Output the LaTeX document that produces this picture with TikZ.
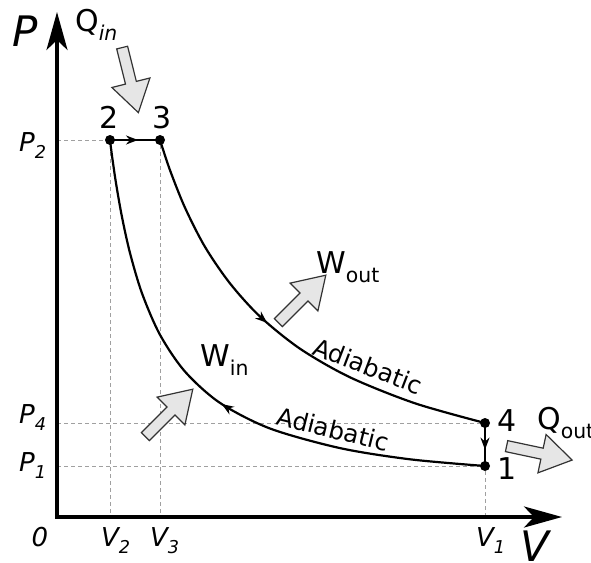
\documentclass[tikz,border=0pt]{standalone}
\usepackage{fontspec}
\setmainfont{DejaVu Sans}
\usetikzlibrary{arrows.meta,shapes.arrows,decorations.markings}
\definecolor{guidegray}{RGB}{160,160,160}
\definecolor{heatfill}{RGB}{230,230,230}
\newcommand{\lowered}[1]{\raisebox{-0.3em}{\scalebox{0.68}{#1}}}

\begin{document}
\begin{tikzpicture}[x=1pt, y=-1pt,
    axisline/.style={line width=3.5pt,
        {Stealth[length=38pt,width=21pt,inset=10pt]}-{Stealth[length=38pt,width=21pt,inset=10pt]}},
    guide/.style={draw=guidegray, line width=1pt, dash pattern=on 4pt off 3pt},
    cycleline/.style={line width=2.2pt},
    midarrow/.style={postaction={decorate, decoration={markings,
        mark=at position #1 with {\arrow{Stealth[length=12pt,width=9pt]}}}}},
    dot/.style={circle, fill=black, inner sep=0pt, minimum size=10pt},
    heat/.style={single arrow, draw=black!80, fill=heatfill, line width=1.2pt,
        minimum height=67pt, inner sep=5pt, single arrow head extend=14pt,
        single arrow tip angle=65},
    axlbl/.style={font=\fontsize{42}{45}\selectfont\itshape, inner sep=0pt},
    ticklbl/.style={font=\fontsize{26}{29}\selectfont\itshape, inner sep=0pt},
    numlbl/.style={font=\fontsize{30}{33}\selectfont, inner sep=0pt},
    adlbl/.style={font=\fontsize{24.5}{27}\selectfont, inner sep=0pt}
]
\useasboundingbox (0,0) rectangle (591,562);

\coordinate (o) at (57,517);
\coordinate (ytip) at (57,12);
\coordinate (xtip) at (562,517);

% state points
\node[dot] (p2) at (110,140) {};
\node[dot] (p3) at (160,140) {};
\node[dot] (p4) at (485,423) {};
\node[dot] (p1) at (485,466) {};

% guides to the axes
\draw[guide] (p2 -| o) -- (p2);
\draw[guide] (p4 -| o) -- (p4);
\draw[guide] (p1 -| o) -- (p1);
\draw[guide] (p2) -- (p2 |- o);
\draw[guide] (p3) -- (p3 |- o);
\draw[guide] (p1) -- (p1 |- o);

\draw[axisline] (ytip) -- (o) -- (xtip);

% the cycle
\draw[cycleline, midarrow=0.56] (p2.center) -- (p3.center);
\draw[cycleline, midarrow=0.47] plot[smooth] coordinates {(p3.center)
    (170,170.2) (185,207.7) (205,246.9) (230,283.4) (260,316.5) (300,348.7)
    (350,377.3) (415,403.3) (p4.center)};
\draw[cycleline, midarrow=0.62] (p4.center) -- (p1.center);
\draw[cycleline, midarrow=0.48] plot[smooth] coordinates {(p1.center)
    (410,459.3) (340,448.1) (270,428.5) (220,402.9) (185,371.6) (160,334.8)
    (142,293.3) (130,253) (122,217.1) (116,183.1) (112,155.8) (p2.center)};

% heat and work
\node[heat, rotate=-76, anchor=tail] (qinarrow) at (122,47) {};
\node[heat, rotate=45, anchor=tail] (woutarrow) at (278,323) {};
\node[heat, rotate=45, anchor=tail] (winarrow) at (145,437) {};
\node[heat, rotate=-12, anchor=tail] (qoutarrow) at (506,446) {};

\node[numlbl, anchor=base west] (qin) at (75,31) {Q\lowered{\itshape in}};
\node[numlbl, anchor=base west] (wout) at (316,273) {W\lowered{out}};
\node[numlbl, anchor=base west] (win) at (200,366) {W\lowered{in}};
\node[numlbl, anchor=base west] (qout) at (537,429) {Q\lowered{out}};

\node[adlbl, rotate=-21] (adup) at (368,366) {Adiabatic};
\node[adlbl, rotate=-14] (adlow) at (333,429) {Adiabatic};

\node[numlbl, anchor=base] (n2) at (109,128) {2};
\node[numlbl, anchor=base] (n3) at (162,128) {3};
\node[numlbl, anchor=base] (n4) at (507,431) {4};
\node[numlbl, anchor=base] (n1) at (507,479) {1};

% axis labels
\node[axlbl, anchor=base west] (plabel) at (12,46) {P};
\node[axlbl, anchor=base west] (vlabel) at (520,561) {V};
\node[ticklbl, anchor=base west] (p2lbl) at (19,151) {P\lowered{2}};
\node[ticklbl, anchor=base west] (p4lbl) at (19,423) {P\lowered{4}};
\node[ticklbl, anchor=base west] (p1lbl) at (19,471) {P\lowered{1}};
\node[ticklbl, anchor=base] (zero) at (40,546) {0};
\node[ticklbl, anchor=base west] (v2lbl) at (101,546) {V\lowered{2}};
\node[ticklbl, anchor=base west] (v3lbl) at (150,546) {V\lowered{3}};
\node[ticklbl, anchor=base west] (v1lbl) at (476,546) {V\lowered{1}};
\end{tikzpicture}
\end{document}
